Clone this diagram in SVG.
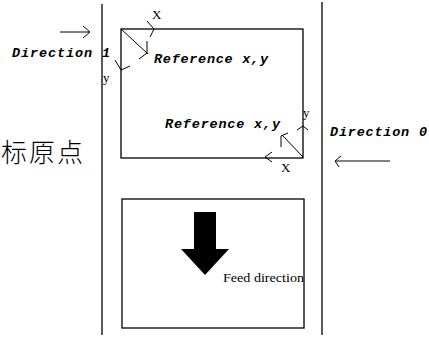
<svg xmlns="http://www.w3.org/2000/svg" width="429" height="344" viewBox="0 0 429 344">
<style>
.ln{stroke:#000;stroke-width:1.3;fill:none}
.thin{stroke:#000;stroke-width:1;fill:none}
.mono{font-family:"Liberation Mono","DejaVu Sans Mono",monospace;font-weight:bold;font-style:italic;font-size:13.5px;fill:#000}
.ser{font-family:"Liberation Serif","DejaVu Serif",serif;font-size:13px;fill:#000}
.cjk{font-family:"Noto Sans CJK SC","Noto Sans CJK JP",sans-serif;font-size:26px;font-weight:300;fill:#000}
</style>
<rect width="429" height="344" fill="#fff"/>
<g id="rails">
<line class="ln" x1="102" y1="4" x2="102" y2="335"/>
<line class="ln" x1="322" y1="2" x2="322" y2="335"/>
</g>
<g id="label-origin">
<text class="cjk" x="1" y="162" letter-spacing="2">标原点</text>
</g>
<g id="label-direction1">
<text class="mono" x="12" y="57" textLength="98" lengthAdjust="spacing">Direction 1</text>
</g>
<g id="label-direction0">
<text class="mono" x="330" y="136" textLength="97" lengthAdjust="spacing">Direction 0</text>
</g>
<g id="label-top">
<rect class="ln" x="121" y="29" width="182" height="129"/>
<text class="mono" x="154" y="63" textLength="114" lengthAdjust="spacing">Reference x,y</text>
<text class="mono" x="165" y="128" textLength="115" lengthAdjust="spacing">Reference x,y</text>
<text class="ser" x="152" y="19">X</text>
<text class="ser" x="103" y="82">y</text>
<text class="ser" x="303" y="117">y</text>
<text class="ser" x="281" y="172">X</text>
</g>
<g id="label-feed">
<rect class="ln" x="122" y="199" width="182" height="129"/>
<polygon points="194,212 216,212 216,249 229,249 205,275 181,249 194,249" fill="#000"/>
<text class="ser" x="223" y="282" font-size="14.5" textLength="81" lengthAdjust="spacingAndGlyphs">Feed direction</text>
</g>
<g id="connectors">
<line class="thin" x1="60" y1="32" x2="90" y2="32"/>
<polyline class="thin" points="83,26 90,32 83,38"/>
<line class="thin" x1="336" y1="161" x2="390" y2="161"/>
<polyline class="thin" points="341,156 335,161 339,167"/>
<line class="thin" x1="121" y1="29" x2="148" y2="54"/>
<polyline class="thin" points="147,41 147,53 139,59"/>
<polyline class="thin" points="147,21 154,29 150,37"/>
<polyline class="thin" points="115,60 121,70 130,66"/>
<line class="thin" x1="303" y1="157" x2="282" y2="135"/>
<polyline class="thin" points="281,147 281,136 288,133"/>
<polyline class="thin" points="297,130 303,126 308,130"/>
<polyline class="thin" points="272,152 265,157 272,162"/>
</g>
</svg>
